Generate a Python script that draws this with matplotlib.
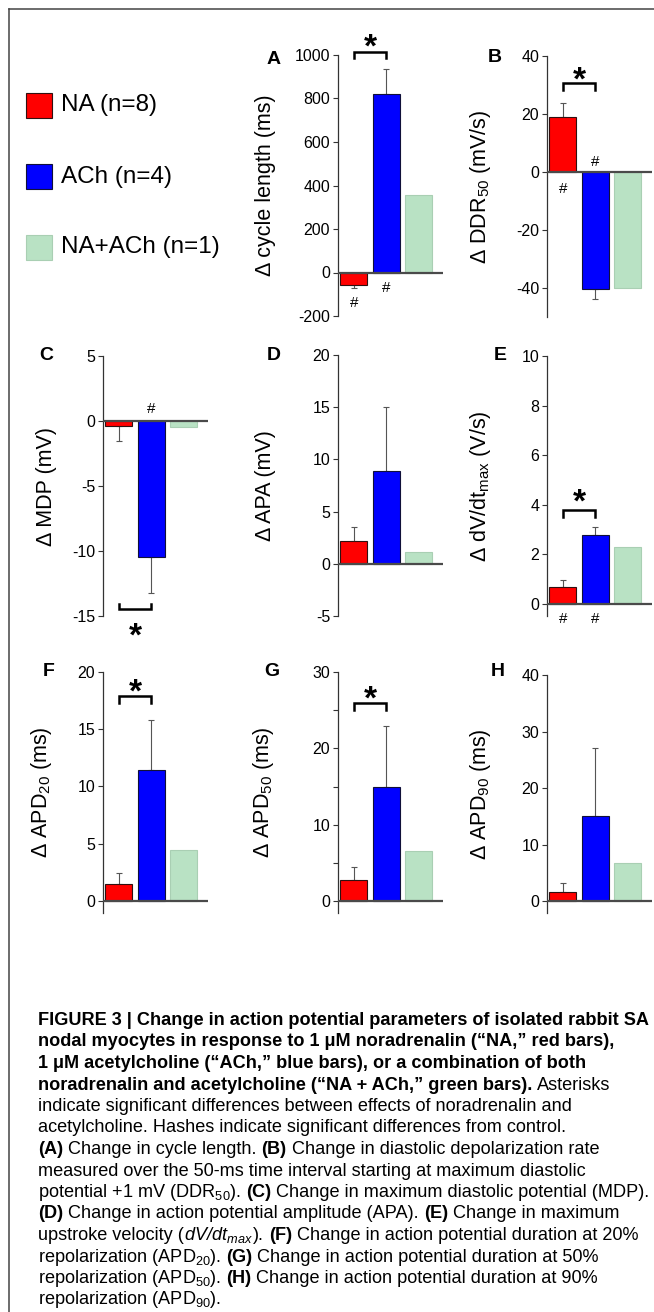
import matplotlib
matplotlib.use("Agg")
import matplotlib.pyplot as plt
from matplotlib import font_manager
from matplotlib.patches import Rectangle
from matplotlib.lines import Line2D

# figure size in pixels
W, H = 654, 1312

def pick_font(names):
    for n in names:
        if any(f.name == n for f in font_manager.fontManager.ttflist):
            return n
    return "DejaVu Sans"

main_font = pick_font(["Liberation Sans", "Arial", "DejaVu Sans"])
cap_font = main_font

plt.rcParams["font.family"] = [main_font, "DejaVu Sans"]
plt.rcParams["axes.unicode_minus"] = False
plt.rcParams["mathtext.default"] = "regular"

# data: NA, ACh, NA+ACh (mean change) and SEM of NA, ACh
groups = ["NA (n=8)", "ACh (n=4)", "NA+ACh (n=1)"]
bar_colors = ["#ff0000", "#0000ff", "#b9e2c4"]
edge_colors = ["#301010", "#101038", "#a9cfb3"]

cycle_len = [-57, 820, 357]
cycle_len_err = [13, 117]
ddr50 = [18.8, -40.3, -40.0]
ddr50_err = [5.1, 3.5]
mdp = [-0.35, -10.45, -0.45]
mdp_err = [1.2, 2.8]
apa = [2.17, 8.92, 1.11]
apa_err = [1.35, 6.1]
dvdt = [0.68, 2.79, 2.29]
dvdt_err = [0.26, 0.29]
apd20 = [1.45, 11.42, 4.45]
apd20_err = [0.96, 4.42]
apd50 = [2.71, 14.93, 6.55]
apd50_err = [1.74, 8.04]
apd90 = [1.53, 15.04, 6.67]
apd90_err = [1.6, 12.06]

fig = plt.figure(figsize=(W / 100, H / 100), dpi=100)
renderer = fig.canvas.get_renderer()

# frame (left and top lines only, rest is cropped)
fig.add_artist(Line2D([9 / W, 9 / W], [1 - 9 / H, 0], color="#444444", lw=1.1))
fig.add_artist(Line2D([9 / W, 1], [1 - 9 / H, 1 - 9 / H], color="#444444", lw=1.1))

# legend
for i, (name, c, ec) in enumerate(zip(groups, bar_colors, edge_colors)):
    y0 = 93 + 71 * i
    fig.add_artist(Rectangle((26 / W, 1 - (y0 + 25) / H), 26 / W, 25 / H,
                             facecolor=c, edgecolor=ec, lw=0.8, transform=fig.transFigure))
    fig.text(61 / W, 1 - (y0 + 12.5) / H, name, fontsize=17.5, va="center", ha="left")

panels = [
    dict(letter="A", vals=cycle_len, errs=cycle_len_err, ylabel="Δ cycle length (ms)",
         ylim=(-200, 1000), yticks=[-200, 0, 200, 400, 600, 800, 1000], minor=[],
         box=(338, 55, 316), lab=(274, 59), labx=-0.59,
         star=(1016, 988, 1080), hashes=[(0, -133), (1, -65)]),
    dict(letter="B", vals=ddr50, errs=ddr50_err, ylabel="Δ DDR$_{50}$ (mV/s)",
         ylim=(-50, 40), yticks=[-40, -20, 0, 20, 40], minor=[],
         box=(547, 56, 317), lab=(495, 57), labx=-0.51,
         star=(30.8, 28.3, 35), hashes=[(0, -5.2), (1, 4.1)]),
    dict(letter="C", vals=mdp, errs=mdp_err, ylabel="Δ MDP (mV)",
         ylim=(-15, 5), yticks=[-15, -10, -5, 0, 5], minor=[],
         box=(103, 356, 616), lab=(46, 356), labx=-0.44,
         star=(-14.46, -14.1, -15.8), hashes=[(1, 1.0)]),
    dict(letter="D", vals=apa, errs=apa_err, ylabel="Δ APA (mV)",
         ylim=(-5, 20), yticks=[-5, 0, 5, 10, 15, 20], minor=[],
         box=(338, 355, 616), lab=(274, 356), labx=-0.59,
         star=None, hashes=[]),
    dict(letter="E", vals=dvdt, errs=dvdt_err, ylabel="Δ dV/dt$_{max}$ (V/s)",
         ylim=(-0.5, 10), yticks=[0, 2, 4, 6, 8, 10], minor=[],
         box=(547, 356, 616), lab=(500, 356), labx=-0.51,
         star=(3.79, 3.5, 4.5), hashes=[(0, -0.55), (1, -0.55)]),
    dict(letter="F", vals=apd20, errs=apd20_err, ylabel="Δ APD$_{20}$ (ms)",
         ylim=(-1.05, 20), yticks=[0, 5, 10, 15, 20], minor=[],
         box=(103, 672, 913), lab=(49, 672), labx=-0.47,
         star=(17.9, 17.3, 19.1), hashes=[]),
    dict(letter="G", vals=apd50, errs=apd50_err, ylabel="Δ APD$_{50}$ (ms)",
         ylim=(-1.57, 30), yticks=[0, 10, 20, 30], minor=[5, 15, 25],
         box=(338, 672, 913), lab=(272, 672), labx=-0.59,
         star=(25.9, 25.0, 27.8), hashes=[]),
    dict(letter="H", vals=apd90, errs=apd90_err, ylabel="Δ APD$_{90}$ (ms)",
         ylim=(-2.1, 40), yticks=[0, 10, 20, 30, 40], minor=[],
         box=(547, 675, 913), lab=(498, 672), labx=-0.51,
         star=None, hashes=[]),
]

xpos = [0, 1, 2]
for p in panels:
    x0, ytop, ybot = p["box"]
    ax = fig.add_axes([x0 / W, 1 - ybot / H, 105 / W, (ybot - ytop) / H])
    ax.bar(xpos, p["vals"], width=0.83, color=bar_colors, edgecolor=edge_colors,
           linewidth=0.8, zorder=2)
    # one sided error bars (away from zero)
    for i, e in enumerate(p["errs"]):
        v = p["vals"][i]
        yerr = [[0], [e]] if v >= 0 else [[e], [0]]
        ax.errorbar([xpos[i]], [v], yerr=yerr, fmt="none", ecolor="#555555",
                    elinewidth=0.8, capsize=2.5, capthick=0.8, zorder=1)
    ax.axhline(0, color="#4a4a4a", lw=1.6, zorder=3)
    ax.set_xlim(-0.49, 2.74)
    ax.set_ylim(*p["ylim"])
    ax.set_yticks(p["yticks"])
    ax.set_yticks(p["minor"], minor=True)
    ax.set_xticks([])
    for s in ["top", "right", "bottom"]:
        ax.spines[s].set_visible(False)
    ax.spines["left"].set_color("#333333")
    ax.spines["left"].set_linewidth(0.9)
    ax.tick_params(axis="y", which="both", direction="out", length=3.6, width=0.8,
                   color="#333333", labelsize=11.5, pad=2)
    ax.set_ylabel(p["ylabel"], fontsize=15.5)
    ax.yaxis.set_label_coords(p["labx"], 0.5)
    ax.patch.set_visible(False)

    fig.text(p["lab"][0] / W, 1 - p["lab"][1] / H, p["letter"], fontsize=14,
             fontweight="bold", ha="center", va="center")

    if p["star"] is not None:
        yb, yl, ys = p["star"]
        ax.plot([0, 0, 1, 1], [yl, yb, yb, yl], color="black", lw=1.8,
                clip_on=False, solid_joinstyle="miter", zorder=4)
        ax.annotate("*", xy=(0.5, ys), xytext=(0, -0.58 * 24), textcoords="offset points",
                    ha="center", va="baseline", fontsize=24, fontweight="bold",
                    annotation_clip=False)
    for i, yh in p["hashes"]:
        ax.annotate("#", xy=(xpos[i], yh), xytext=(0, -0.36 * 11), textcoords="offset points",
                    ha="center", va="baseline", fontsize=11, annotation_clip=False)

# caption
B, N, I = ("bold", "normal"), ("normal", "normal"), ("normal", "italic")
caption = [
    [("FIGURE 3 | Change in action potential parameters of isolated rabbit SA", B)],
    [("nodal myocytes in response to 1 μM noradrenalin (“NA,” red bars),", B)],
    [("1 μM acetylcholine (“ACh,” blue bars), or a combination of both", B)],
    [("noradrenalin and acetylcholine (“NA + ACh,” green bars).", B), (" Asterisks", N)],
    [("indicate significant differences between effects of noradrenalin and", N)],
    [("acetylcholine. Hashes indicate significant differences from control.", N)],
    [("(A)", B), (" Change in cycle length. ", N), ("(B)", B),
     (" Change in diastolic depolarization rate", N)],
    [("measured over the 50-ms time interval starting at maximum diastolic", N)],
    [("potential +1 mV (DDR$_{50}$). ", N), ("(C)", B),
     (" Change in maximum diastolic potential (MDP).", N)],
    [("(D)", B), (" Change in action potential amplitude (APA). ", N), ("(E)", B),
     (" Change in maximum", N)],
    [("upstroke velocity (", N), ("dV/dt$_{max}$", I), ("). ", N), ("(F)", B),
     (" Change in action potential duration at 20%", N)],
    [("repolarization (APD$_{20}$). ", N), ("(G)", B),
     (" Change in action potential duration at 50%", N)],
    [("repolarization (APD$_{50}$). ", N), ("(H)", B),
     (" Change in action potential duration at 90%", N)],
    [("repolarization (APD$_{90}$).", N)],
]


def text_width(txt, size, weight, style):
    t = fig.text(0, 0, txt, fontsize=size, fontweight=weight, fontstyle=style, family=cap_font)
    w = t.get_window_extent(renderer).width
    t.remove()
    return w


def space_width(size, weight, style):
    return text_width("a a", size, weight, style) - text_width("aa", size, weight, style)


def line_width(line, size):
    total = 0
    for txt, (weight, style) in line:
        n_sp = len(txt) - len(txt.strip(" "))
        total += text_width(txt.strip(" "), size, weight, style) + n_sp * space_width(size, weight, style)
    return total


# fit the caption font so the first line spans the frame width and no line overflows
CAP_X = 38
cap_size = 13 * 610 / line_width(caption[0], 13)
widest = max(line_width(line, cap_size) for line in caption)
if widest > 612:
    cap_size *= 612 / widest

for k, line in enumerate(caption):
    x = CAP_X
    y = 1025 + 21.5 * k
    for txt, (weight, style) in line:
        sp = space_width(cap_size, weight, style)
        lead = len(txt) - len(txt.lstrip(" "))
        trail = len(txt) - len(txt.rstrip(" "))
        core = txt.strip(" ")
        x += lead * sp
        t = fig.text(x / W, 1 - y / H, core, fontsize=cap_size, fontweight=weight,
                     fontstyle=style, family=cap_font, ha="left", va="baseline")
        x += t.get_window_extent(renderer).width + trail * sp

fig.savefig("out.png", dpi=100, facecolor="white")
